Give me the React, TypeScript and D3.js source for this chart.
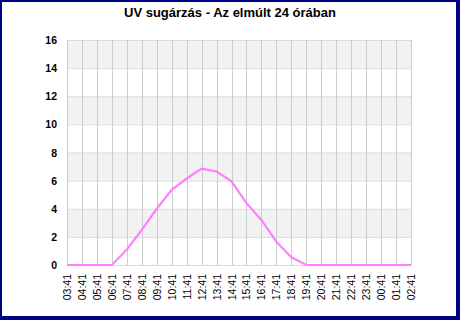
import * as d3 from 'd3'

const hours = [
  '03:41', '04:41', '05:41', '06:41', '07:41', '08:41', '09:41', '10:41',
  '11:41', '12:41', '13:41', '14:41', '15:41', '16:41', '17:41', '18:41',
  '19:41', '20:41', '21:41', '22:41', '23:41', '00:41', '01:41', '02:41',
]
const uvValues = [
  0, 0, 0, 0, 1.1, 2.5, 4.0, 5.35, 6.15, 6.85, 6.65, 5.95, 4.4, 3.2, 1.65,
  0.55, 0, 0, 0, 0, 0, 0, 0, 0,
]
const yTicks = [0, 2, 4, 6, 8, 10, 12, 14, 16]

const width = 460
const height = 320
const margin = { top: 40, right: 50, bottom: 55, left: 67 }

export default function App() {
  const x = d3
    .scalePoint<string>()
    .domain(hours)
    .range([margin.left, width - margin.right + 1])

  const y = d3
    .scaleLinear()
    .domain([0, 16])
    .range([height - margin.bottom, margin.top])

  const line = d3
    .line<number>()
    .x((_, i) => x(hours[i])!)
    .y(d => y(d))

  const x0 = margin.left
  const x1 = width - margin.right + 1

  return (
    <>
      <style>{'body{margin:0}'}</style>
      <svg width={width} height={height} style={{ display: 'block', fontFamily: 'Arial, "Liberation Sans", sans-serif' }}>
        <rect x={0} y={0} width={width} height={height} fill="#000088" />
        <rect x={2} y={2} width={width - 6} height={height - 6} fill="#fff" />

        <text x={230} y={17} textAnchor="middle" fontSize={13} fontWeight="bold" fill="#000">
          UV sugárzás - Az elmúlt 24 órában
        </text>

        {/* alternating bands */}
        {yTicks.slice(0, -1).map((t, i) => (
          <rect
            key={'b' + t}
            x={x0}
            y={y(t + 2)}
            width={x1 - x0}
            height={y(t) - y(t + 2)}
            fill={i % 2 === 1 ? '#f2f2f2' : '#ffffff'}
          />
        ))}

        {/* horizontal grid */}
        {yTicks.map(t => (
          <line key={'h' + t} x1={x0} x2={x1} y1={y(t) + 0.5} y2={y(t) + 0.5} stroke="#dcdcdc" />
        ))}

        {/* vertical grid */}
        {hours.map(h => (
          <line key={'v' + h} x1={Math.round(x(h)!) + 0.5} x2={Math.round(x(h)!) + 0.5} y1={y(16)} y2={y(0)} stroke="#cccccc" />
        ))}

        {/* y labels */}
        {yTicks.map(t => (
          <text key={'yl' + t} x={57} y={y(t) + 4} textAnchor="end" fontSize={10.5} fontWeight="bold" fill="#000">
            {t}
          </text>
        ))}

        {/* x labels */}
        {hours.map(h => (
          <text
            key={'xl' + h}
            transform={`translate(${x(h)! + 4},${y(0) + 9}) rotate(-90)`}
            textAnchor="end"
            fontSize={10.5}
            fill="#000"
          >
            {h}
          </text>
        ))}

        <path d={line(uvValues)!} fill="none" stroke="#ff80ff" strokeWidth={2.2} />
      </svg>
    </>
  )
}
